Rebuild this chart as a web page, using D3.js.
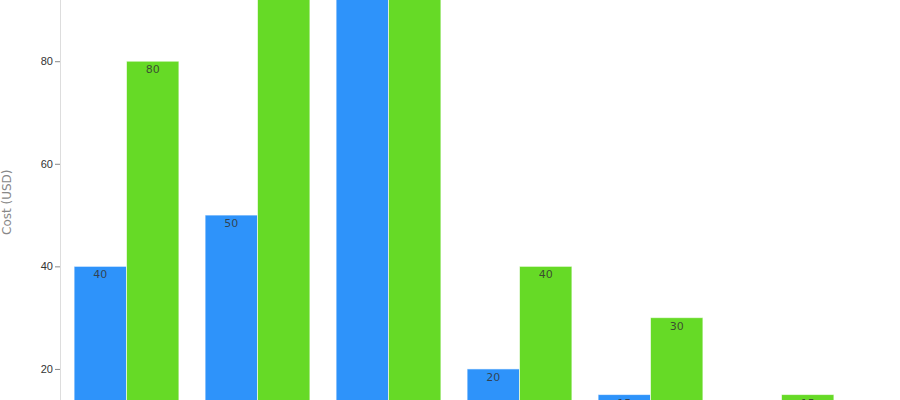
<!DOCTYPE html>
<html>
<head>
<meta charset="utf-8">
<script src="https://cdn.jsdelivr.net/npm/d3@7"></script>
<style>
  html, body { margin: 0; padding: 0; background: #fff; overflow: hidden; }
</style>
</head>
<body>
<div id="chart"></div>
<script>
// data (tall bars are cut off at the top, values guessed)
var categories = ["A", "B", "C", "D", "E", "F"];
var seriesNames = ["Series 1", "Series 2"];
var series1 = [40, 50, 100, 20, 15, 10];
var series2 = [80, 100, 100, 40, 30, 15];
var yTicks = [0, 20, 40, 60, 80, 100];

var width = 900, height = 400;
// the view only shows a slice of the plot, so the top margin is negative
var margin = {top: -67, right: 54, bottom: 0, left: 60};
var innerW = width - margin.left - margin.right;
var innerH = 538.5;

var colors = ["#2E93FA", "#66DA26"];

var svg = d3.select("#chart").append("svg")
    .attr("width", width)
    .attr("height", height)
    .style("font-family", "DejaVu Sans, sans-serif");

var g = svg.append("g")
    .attr("transform", "translate(" + margin.left + "," + margin.top + ")");

var x0 = d3.scaleBand()
    .domain(categories)
    .range([1, innerW + 1])
    .paddingInner(0.2)
    .paddingOuter(0.1);

var x1 = d3.scaleBand()
    .domain(seriesNames)
    .range([0, x0.bandwidth()]);

var y = d3.scaleLinear()
    .domain([0, 105])
    .range([innerH, 0]);

// y axis
var yAxis = g.append("g")
    .call(d3.axisLeft(y).tickValues(yTicks).tickSize(5).tickPadding(2));
yAxis.select(".domain").attr("stroke", "#ddd");
yAxis.selectAll(".tick line").attr("stroke", "#888");
yAxis.selectAll(".tick text")
    .attr("fill", "#333")
    .style("font-size", "11px");

g.append("text")
    .attr("transform", "rotate(-90)")
    .attr("x", -innerH / 2)
    .attr("y", -49)
    .attr("text-anchor", "middle")
    .style("font-size", "12px")
    .attr("fill", "#888")
    .text("Cost (USD)");

var rows = categories.map(function(c, i) {
    return {cat: c, vals: [series1[i], series2[i]]};
});

var groups = g.selectAll(".grp")
    .data(rows)
    .join("g")
    .attr("class", "grp")
    .attr("transform", function(d) { return "translate(" + x0(d.cat) + ",0)"; });

var cells = groups.selectAll(".cell")
    .data(function(d) {
        return d.vals.map(function(v, j) { return {name: seriesNames[j], value: v, k: j}; });
    })
    .join("g")
    .attr("class", "cell");

cells.append("rect")
    .attr("x", function(d) { return x1(d.name); })
    .attr("y", function(d) { return y(d.value); })
    .attr("width", x1.bandwidth())
    .attr("height", function(d) { return innerH - y(d.value); })
    .attr("fill", function(d) { return colors[d.k]; })
    .attr("stroke", "#fff")
    .attr("stroke-opacity", 0.6)
    .attr("stroke-width", 1);

cells.append("text")
    .attr("x", function(d) { return x1(d.name) + x1.bandwidth() / 2; })
    .attr("y", function(d) { return y(d.value) + 12; })
    .attr("text-anchor", "middle")
    .style("font-size", "11px")
    .attr("fill", "#333")
    .attr("fill-opacity", 0.85)
    .text(function(d) { return d.value; });
</script>
</body>
</html>
